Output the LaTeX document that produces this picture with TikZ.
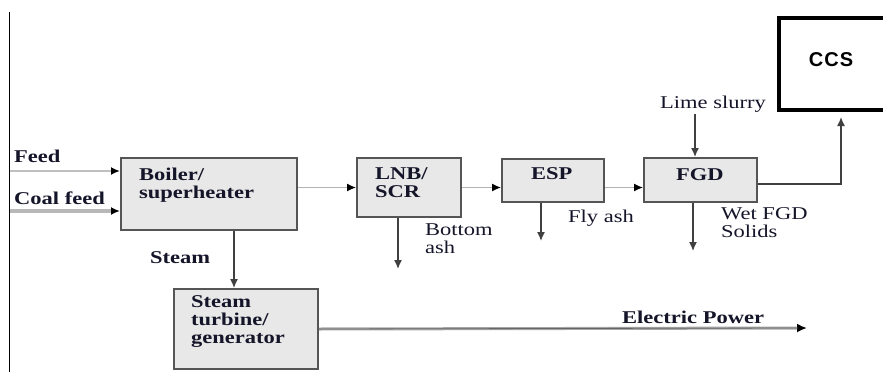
\documentclass[tikz,border=0pt]{standalone}
\usepackage{fontspec}
\setmainfont{Liberation Serif}[FakeStretch=1.25]
\newfontfamily\ccsfont{Liberation Sans}
\usetikzlibrary{arrows.meta}
\definecolor{boxfill}{HTML}{E8E8E8}
\definecolor{boxline}{HTML}{555555}
\definecolor{ink}{HTML}{15152A}
\tikzset{
  box/.style={draw=boxline, line width=2pt, fill=boxfill, rectangle, inner sep=0pt, anchor=north west},
  lbl/.style={anchor=base west, inner sep=0pt, text=ink, font=\fontsize{18}{18}\selectfont, align=left},
  blbl/.style={lbl, font=\fontsize{18}{18}\selectfont\bfseries},
  arr/.style={draw=black!75, line width=1.4pt, -{Latex[length=9pt,width=8pt]}},
  thinarr/.style={draw=black!30, line width=1.3pt, -{Latex[length=9pt,width=8pt,fill=black,color=black]}},
}
\begin{document}
\begin{tikzpicture}[x=1pt,y=-1pt]
\useasboundingbox (0,0) rectangle (883,372);
\fill[white] (0,0) rectangle (883,372);
% left rule
\draw[black, line width=1pt] (9,12) -- (9,372);
% boxes
\node[box, minimum width=176pt, minimum height=72pt] (boiler) at (120,157) {};
\node[box, minimum width=104pt, minimum height=59pt] (lnb) at (356,157) {};
\node[box, minimum width=102pt, minimum height=43pt] (esp) at (501,158) {};
\node[box, minimum width=113pt, minimum height=44pt] (fgd) at (643,157) {};
\node[box, minimum width=144pt, minimum height=80pt] (turb) at (173,288) {};
\node[draw=black, line width=4pt, rectangle, inner sep=0pt, anchor=north west, minimum width=124pt, minimum height=92pt] (ccs) at (777,16) {};
% box texts (base = last line)
\node[blbl] (tboiler) at (139,198) {Boiler/\\superheater};
\node[blbl] (tlnb) at (375,197) {LNB/\\SCR};
\node[blbl] (tesp) at (531,179) {ESP};
\node[blbl] (tfgd) at (676,180) {FGD};
\node[blbl] (tturb) at (191,343) {Steam\\turbine/\\generator};
\node[inner sep=0pt, font=\ccsfont\bfseries\fontsize{20}{22}\selectfont] (tccs) at (831,60) {C\kern1pt C\kern1pt S};
% free ends
\coordinate (feedin) at (10,171);
\coordinate (coalin) at (10,211);
\coordinate (ashout) at (398,269);
\coordinate (flyout) at (541,241);
\coordinate (limein) at (695,114);
\coordinate (wetout) at (693,251);
\coordinate (powout) at (807,328);
% connectors
\draw[draw=black!25, line width=2pt, -{Latex[length=9pt,width=8pt,fill=black,color=black]}] (feedin) -- (feedin -| boiler.west);
\draw[draw=black!28, line width=4pt, -{Latex[length=9pt,width=8pt,fill=black,color=black]}] (coalin) -- (coalin -| boiler.west);
\draw[thinarr] (boiler.east |- lnb.west) -- (lnb.west);
\draw[thinarr] (lnb.east) -- (lnb.east -| esp.west);
\draw[thinarr] (lnb.east -| esp.east) -- (lnb.east -| fgd.west);
\draw[arr] ([xshift=25pt]boiler.south) -- ([xshift=25pt]boiler.south |- turb.north);
\draw[arr] (lnb.south -| ashout) -- (ashout);
\draw[arr] (esp.south -| flyout) -- (flyout);
\draw[arr] (limein) -- (limein |- fgd.north);
\draw[arr] (fgd.south -| wetout) -- (wetout);
\draw[arr, shorten >=5pt] ([yshift=-4pt]fgd.east) -| (ccs.south);
\draw[draw=black!35, line width=3pt, -{Latex[length=10pt,width=9pt,fill=black,color=black]}] (turb.east) -- (powout);
\draw[draw=black!60, line width=0.8pt] (turb.east) -- ([xshift=-9pt]powout);
% labels
\node[blbl] (lfeed) at (14,162) {Feed};
\node[blbl] (lcoal) at (14,204) {Coal feed};
\node[blbl] (lsteam) at (150,263) {Steam};
\node[lbl] (lash) at (425,253) {Bottom\\ash};
\node[lbl] (lfly) at (568,222) {Fly ash};
\node[lbl] (llime) at (660,108) {Lime slurry};
\node[lbl] (lwet) at (721,237) {Wet FGD\\Solids};
\node[blbl] (lpow) at (622,323) {Electric Power};
\end{tikzpicture}
\end{document}
